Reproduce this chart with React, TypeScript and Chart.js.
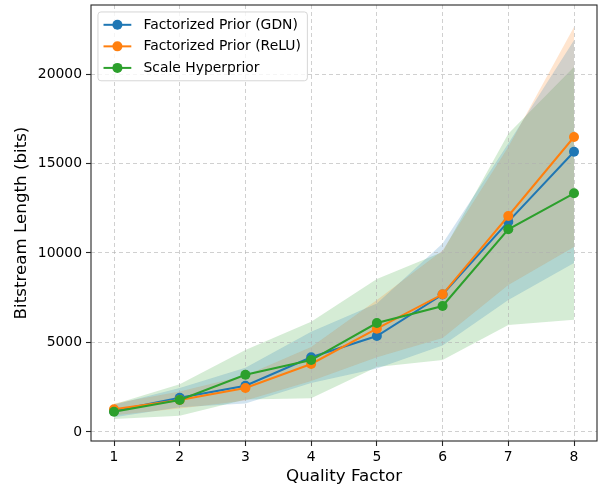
import React, { useEffect, useRef } from "react";
import { Chart, registerables } from "chart.js";

Chart.register(...registerables);

const QUALITY = [1, 2, 3, 4, 5, 6, 7, 8];
const GDN_MEAN = [1173, 1916, 2587, 4173, 5363, 7682, 11749, 15659];
const GDN_STD = [350, 540, 1000, 1430, 1820, 2850, 4370, 6220];
const RELU_MEAN = [1268, 1788, 2458, 3799, 5771, 7693, 12067, 16480];
const RELU_STD = [330, 480, 700, 950, 1600, 2440, 3850, 6150];
const HYPER_MEAN = [1134, 1788, 3201, 4022, 6089, 7039, 11324, 13335];
const HYPER_STD = [410, 880, 1380, 2140, 2460, 3010, 5340, 7060];
const SERIES_LABELS = ["Factorized Prior (GDN)", "Factorized Prior (ReLU)", "Scale Hyperprior"];
const X_TICKS = [1, 2, 3, 4, 5, 6, 7, 8];
const Y_TICKS = [0, 5000, 10000, 15000, 20000];
const X_TITLE = "Quality Factor";
const Y_TITLE = "Bitstream Length (bits)";

const FONT = "'DejaVu Sans', sans-serif";

export default function App() {
  const ref = useRef<HTMLCanvasElement>(null);

  useEffect(() => {
    document.body.style.margin = "0";
    const canvas = ref.current;
    if (!canvas) return;

    const series = [
      { label: SERIES_LABELS[0], mean: GDN_MEAN, std: GDN_STD, color: "#1f77b4", band: "rgba(31,119,180,0.2)" },
      { label: SERIES_LABELS[1], mean: RELU_MEAN, std: RELU_STD, color: "#ff7f0e", band: "rgba(255,127,14,0.2)" },
      { label: SERIES_LABELS[2], mean: HYPER_MEAN, std: HYPER_STD, color: "#2ca02c", band: "rgba(44,160,44,0.2)" },
    ];

    const datasets: any[] = [];
    series.forEach((s, k) => {
      datasets.push({
        label: s.label,
        data: QUALITY.map((q, i) => ({ x: q, y: s.mean[i] })),
        borderColor: s.color,
        backgroundColor: s.color,
        borderWidth: 2,
        pointRadius: 5,
        pointHoverRadius: 5,
        pointBackgroundColor: s.color,
        pointBorderWidth: 0,
        fill: false,
        tension: 0,
        order: 3 - k,
      });
    });
    series.forEach((s) => {
      datasets.push({
        label: s.label + " lower",
        data: QUALITY.map((q, i) => ({ x: q, y: s.mean[i] - s.std[i] })),
        borderColor: "rgba(0,0,0,0)",
        borderWidth: 0,
        pointRadius: 0,
        pointHoverRadius: 0,
        fill: false,
        order: 10,
      });
      datasets.push({
        label: s.label + " upper",
        data: QUALITY.map((q, i) => ({ x: q, y: s.mean[i] + s.std[i] })),
        borderColor: "rgba(0,0,0,0)",
        borderWidth: 0,
        pointRadius: 0,
        pointHoverRadius: 0,
        fill: "-1",
        backgroundColor: s.band,
        order: 10,
      });
    });

    const framePlugin = {
      id: "frame",
      afterDatasetsDraw(chart: any) {
        const { ctx, chartArea: a } = chart;
        ctx.save();
        ctx.strokeStyle = "#262626";
        ctx.lineWidth = 1.1;
        ctx.strokeRect(a.left, a.top, a.right - a.left, a.bottom - a.top);
        ctx.restore();
      },
    };

    const legendPlugin = {
      id: "mplLegend",
      afterDraw(chart: any) {
        const { ctx, chartArea: a } = chart;
        const fs = 13.9;
        ctx.save();
        ctx.font = `${fs}px ${FONT}`;
        const pad = 0.4 * fs;
        const rowH = 14.6;
        const gap = 0.5 * fs;
        const handleLen = 2.0 * fs;
        const textPad = 0.8 * fs;
        const x0 = a.left + 0.5 * fs;
        const y0 = a.top + 0.5 * fs;
        const maxW = Math.max(...series.map((s) => ctx.measureText(s.label).width));
        const w = pad + handleLen + textPad + maxW + pad + 2;
        const h = 2 * pad + series.length * rowH + (series.length - 1) * gap;
        const r = 3;
        ctx.beginPath();
        ctx.moveTo(x0 + r, y0);
        ctx.lineTo(x0 + w - r, y0);
        ctx.arcTo(x0 + w, y0, x0 + w, y0 + r, r);
        ctx.lineTo(x0 + w, y0 + h - r);
        ctx.arcTo(x0 + w, y0 + h, x0 + w - r, y0 + h, r);
        ctx.lineTo(x0 + r, y0 + h);
        ctx.arcTo(x0, y0 + h, x0, y0 + h - r, r);
        ctx.lineTo(x0, y0 + r);
        ctx.arcTo(x0, y0, x0 + r, y0, r);
        ctx.closePath();
        ctx.fillStyle = "rgba(255,255,255,0.8)";
        ctx.fill();
        ctx.strokeStyle = "rgba(204,204,204,0.8)";
        ctx.lineWidth = 1;
        ctx.stroke();
        series.forEach((s, i) => {
          const cy = y0 + pad + rowH / 2 + i * (rowH + gap);
          const hx = x0 + pad;
          ctx.strokeStyle = s.color;
          ctx.lineWidth = 2;
          ctx.beginPath();
          ctx.moveTo(hx, cy);
          ctx.lineTo(hx + handleLen, cy);
          ctx.stroke();
          ctx.fillStyle = s.color;
          ctx.beginPath();
          ctx.arc(hx + handleLen / 2, cy, 5, 0, Math.PI * 2);
          ctx.fill();
          ctx.fillStyle = "#000";
          ctx.textBaseline = "middle";
          ctx.textAlign = "left";
          ctx.fillText(s.label, hx + handleLen + textPad + 1, cy + 0.5);
        });
        ctx.restore();
      },
    };

    const chart = new Chart(canvas, {
      type: "line",
      data: { datasets },
      plugins: [framePlugin, legendPlugin],
      options: {
        animation: false,
        responsive: false,
        devicePixelRatio: 1,
        events: [],
        layout: { autoPadding: false, padding: { top: 5, right: 1, left: 0, bottom: 0 } },
        plugins: {
          legend: { display: false },
          tooltip: { enabled: false },
          filler: { drawTime: "beforeDraw" },
        },
        scales: {
          x: {
            type: "linear",
            min: 0.65,
            max: 8.35,
            afterBuildTicks: (scale: any) => {
              scale.ticks = X_TICKS.map((v) => ({ value: v }));
            },
            afterFit: (scale: any) => {
              scale.height = 47;
              scale.paddingLeft = 0;
              scale.paddingRight = 0;
            },
            ticks: {
              color: "#000",
              font: { family: FONT, size: 13.9 },
              padding: 3,
              maxRotation: 0,
              autoSkip: false,
              callback: (v: any) => String(v),
            },
            grid: {
              color: "rgba(176,176,176,0.6)",
              lineWidth: 1,
              tickLength: 5,
              tickColor: "#262626",
              tickWidth: 1.1,
            },
            border: { display: false, dash: [4, 3] },
            title: {
              display: true,
              text: X_TITLE,
              color: "#000",
              font: { family: FONT, size: 16.7 },
              padding: { top: 0, bottom: 1 },
            },
          },
          y: {
            type: "linear",
            min: -503,
            max: 23855,
            afterBuildTicks: (scale: any) => {
              scale.ticks = Y_TICKS.map((v) => ({ value: v }));
            },
            afterFit: (scale: any) => {
              scale.width = 91;
              scale.paddingTop = 0;
              scale.paddingBottom = 0;
            },
            ticks: {
              color: "#000",
              font: { family: FONT, size: 13.9 },
              padding: 4,
              callback: (v: any) => String(v),
            },
            grid: {
              color: "rgba(176,176,176,0.6)",
              lineWidth: 1,
              tickLength: 5,
              tickColor: "#262626",
              tickWidth: 1.1,
            },
            border: { display: false, dash: [4, 3] },
            title: {
              display: true,
              text: Y_TITLE,
              color: "#000",
              font: { family: FONT, size: 16.7 },
              padding: { top: 12, bottom: 0 },
            },
          },
        },
      } as any,
    });

    return () => chart.destroy();
  }, []);

  return (
    <div style={{ position: "absolute", left: 0, top: 0, width: 598, height: 488 }}>
      <canvas ref={ref} width={598} height={488} />
    </div>
  );
}
